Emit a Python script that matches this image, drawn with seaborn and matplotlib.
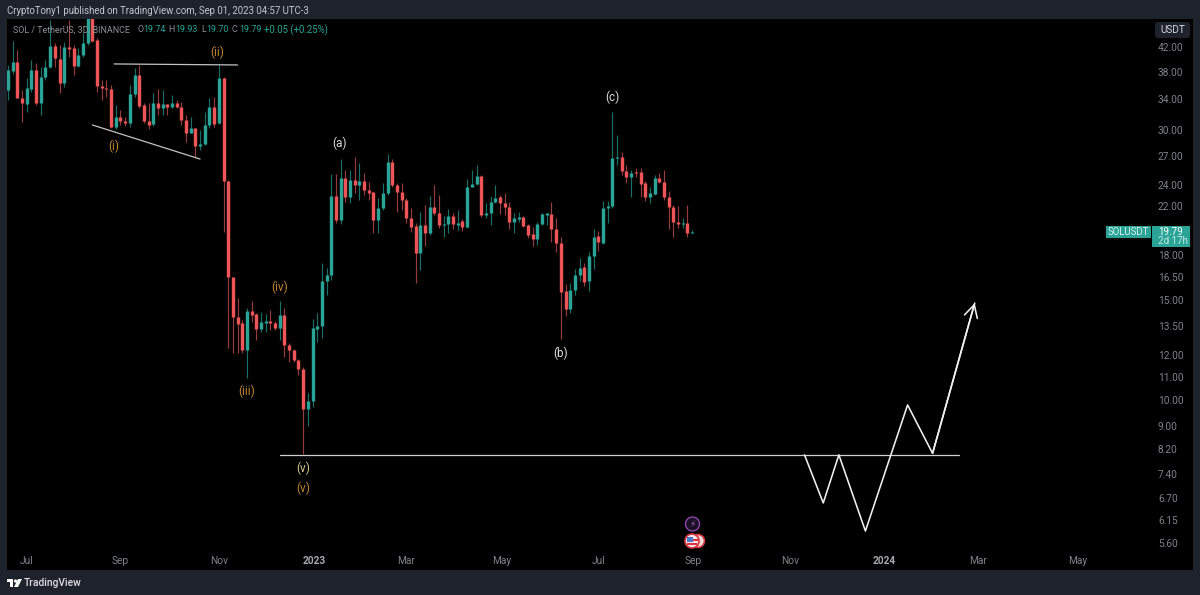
import numpy as np
import pandas as pd
import seaborn as sns
import matplotlib.pyplot as plt
import matplotlib.dates as mdates
from matplotlib.patches import Rectangle, FancyBboxPatch, Circle, Polygon

# 3D candles, first one on 2022-06-19
opens = [35.26,38.10,39.52,34.14,33.31,35.41,38.25,33.45,37.18,38.72,42.17,40.00,36.28,42.00,41.83,38.88,40.66,42.67,47.73,43.19,
         35.84,35.55,35.41,30.34,31.60,31.09,30.84,34.70,37.48,33.18,31.09,30.71,33.45,32.78,33.31,32.91,33.45,32.91,31.21,29.61,
         30.22,28.08,28.31,30.59,32.91,30.84,37.03,24.35,16.48,14.01,13.67,12.25,14.35,14.18,13.34,13.67,13.78,13.67,13.40,14.12,
         12.50,12.25,11.76,11.34,9.63,9.96,13.34,13.51,16.22,16.62,22.91,20.78,24.66,22.82,24.45,23.96,24.35,23.48,23.29,20.78,
         21.82,23.20,26.31,23.96,23.29,22.54,20.95,20.28,18.17,20.36,19.71,21.91,21.38,20.36,20.44,21.12,20.36,20.69,20.19,23.77,
         24.06,24.86,21.20,21.38,22.36,22.82,22.27,21.91,20.61,20.86,21.03,20.36,19.63,19.23,20.44,21.20,21.29,20.03,18.92,15.57,
         14.47,15.64,16.62,17.17,16.22,17.95,19.47,18.92,21.82,22.00,26.74,26.85,25.37,24.76,25.26,25.26,24.16,22.82,23.10,24.66,
         24.26,22.82,21.91,20.61,20.44,20.53,19.74]
highs = [39.04,43.01,41.49,35.26,37.03,39.84,39.36,38.72,39.84,46.87,42.67,42.34,42.84,46.87,42.34,41.83,44.44,50.90,48.82,43.55,
         36.73,36.73,35.99,33.18,32.51,31.60,35.99,38.57,39.04,33.45,33.45,34.84,35.41,35.26,33.31,34.56,33.86,33.58,31.86,31.60,
         30.22,29.97,32.25,34.14,34.27,39.04,37.18,24.45,16.48,15.13,13.84,14.53,14.95,14.24,14.30,14.18,14.41,13.78,14.95,14.53,
         12.60,12.30,11.81,11.43,10.29,13.90,14.24,17.45,17.10,25.06,25.06,26.63,25.47,25.47,26.85,26.20,25.16,24.26,23.29,22.73,
         24.16,27.18,26.63,24.16,24.16,22.73,21.82,20.53,21.46,22.09,22.91,23.96,23.01,21.12,21.73,21.38,21.64,20.86,24.56,25.47,
         25.99,24.96,22.27,22.91,23.96,23.01,23.20,22.36,21.38,21.46,21.12,20.44,20.19,20.61,21.38,21.38,22.36,20.95,19.39,16.02,
         16.09,17.03,17.80,17.45,18.24,20.03,19.87,22.45,22.45,32.25,29.37,27.41,25.99,25.47,25.68,25.68,24.35,23.77,24.96,25.16,
         25.47,23.38,22.09,22.00,20.95,22.09,19.93]
lows = [33.86,37.64,34.14,30.96,32.25,34.98,33.18,31.86,36.73,38.57,38.72,34.84,35.70,40.33,37.48,38.72,40.33,42.34,42.84,34.98,
        33.86,34.27,30.22,30.09,30.59,30.46,30.34,34.27,32.78,30.84,30.09,30.46,31.86,31.86,31.86,32.78,32.78,30.59,28.54,29.61,
        26.85,27.63,28.19,30.22,30.34,30.71,19.79,12.35,12.10,12.10,12.10,10.94,13.73,12.76,13.18,13.18,13.29,13.29,12.76,11.90,
        11.66,11.66,11.07,8.02,9.00,9.71,12.66,12.86,15.32,16.28,20.53,20.44,22.36,22.27,23.20,22.54,23.01,22.54,19.71,19.71,
        21.64,23.01,23.77,21.46,21.64,20.53,19.79,16.09,16.96,18.69,19.55,21.20,20.11,19.39,19.71,20.03,19.95,19.87,20.11,23.77,
        23.96,21.03,20.95,20.36,22.27,21.29,21.20,20.03,19.71,20.61,20.19,19.31,18.69,18.77,20.36,20.36,19.00,18.24,12.81,14.07,
        14.24,15.32,16.22,15.89,15.57,17.03,18.32,18.85,20.53,21.82,25.99,24.96,24.16,22.82,24.76,22.82,22.45,22.27,23.01,24.16,
        22.54,20.03,19.39,20.11,20.11,19.39,19.70]
closes = [38.25,39.52,34.14,33.45,35.55,38.25,33.45,37.18,38.72,42.17,40.16,36.28,42.00,41.66,38.88,40.66,42.67,48.30,43.01,35.84,
          35.55,35.41,30.34,31.60,31.09,30.84,34.70,37.48,33.05,31.09,30.59,33.45,32.78,33.31,32.91,33.45,32.91,31.21,29.61,30.22,
          28.08,28.31,30.59,32.91,30.71,37.03,24.35,16.48,14.01,13.62,12.25,14.35,14.12,13.34,13.73,13.78,13.67,13.40,14.12,12.50,
          12.25,11.76,11.34,9.63,9.96,13.40,13.51,16.22,16.62,22.91,20.78,24.66,22.82,24.45,23.96,24.35,23.48,23.20,20.78,21.82,
          23.20,26.31,23.96,23.29,22.54,20.95,20.19,18.17,20.36,19.71,21.91,21.38,20.36,20.44,21.12,20.44,20.53,20.19,23.77,24.06,
          24.86,21.20,21.38,22.36,22.73,22.27,21.91,20.61,20.95,21.03,20.28,19.55,19.23,20.44,21.29,21.38,20.03,18.92,15.51,14.47,
          15.64,16.62,17.10,16.15,17.95,19.39,19.00,21.82,22.00,26.74,26.85,25.37,24.76,25.16,25.16,24.06,22.82,23.20,24.66,24.26,
          22.82,21.91,20.61,20.44,20.53,19.71,19.79]

price_ticks = [42, 38, 34, 30, 27, 24, 22, 18, 16.5, 15, 13.5, 12, 11, 10, 9, 8.2, 7.4, 6.7, 6.15, 5.6]
tick_dates = ["2022-07-01", "2022-08-30", "2022-11-01", "2023-01-01", "2023-03-01", "2023-05-01",
              "2023-07-02", "2023-09-01", "2023-11-02", "2024-01-01", "2024-03-01", "2024-05-04"]
tick_labels = ["Jul", "Sep", "Nov", "2023", "Mar", "May", "Jul", "Sep", "Nov", "2024", "Mar", "May"]

wave_labels = ["(i)", "(ii)", "(iii)", "(iv)", "(v)", "(v)", "(a)", "(b)", "(c)"]
wave_dates = ["2022-08-26", "2022-10-31", "2022-11-19", "2022-12-10", "2022-12-25", "2022-12-25",
              "2023-01-17", "2023-06-08", "2023-07-11"]
wave_prices = [28.08, 41.15, 10.37, 15.8, 7.58, 6.99, 28.42, 12.07, 34.27]
wave_colors = ["#c08430"] * 4 + ["#d2c98c", "#c08430"] + ["#dcdcdc"] * 3

top_line_dates = ["2022-08-26", "2022-11-13"]
top_line_prices = [39.2, 39.04]
low_line_dates = ["2022-08-12", "2022-10-20"]
low_line_prices = [30.59, 26.63]
base_line_dates = ["2022-12-10", "2024-02-18"]
base_line_prices = [8.0, 8.0]
path_dates = ["2023-11-11", "2023-11-23", "2023-12-03", "2023-12-20", "2024-01-16", "2024-02-01", "2024-02-28"]
path_prices = [8.0, 6.58, 8.0, 5.87, 9.8, 8.05, 14.83]

GREEN = "#29a497"
RED = "#ee5558"
PANEL = "#1e222d"
W, H = 1200, 595

dates = pd.date_range("2022-06-19", periods=len(opens), freq="3D")
candles = pd.DataFrame({"date": dates, "open": opens, "high": highs, "low": lows, "close": closes})
candles["dir"] = np.where(candles["close"] >= candles["open"], "up", "down")
candles["candle"] = range(len(candles))

wicks = candles.melt(id_vars=["date", "candle", "dir"], value_vars=["low", "high"], value_name="price")
bodies = candles.melt(id_vars=["date", "candle", "dir"], value_vars=["open", "close"], value_name="price")

sns.set_theme(style="dark")
plt.rcParams["font.family"] = ["Roboto", "DejaVu Sans"]

fig = plt.figure(figsize=(W / 100, H / 100), dpi=100, facecolor=PANEL)

bg = fig.add_axes([0, 0, 1, 1], zorder=0)
bg.set_xlim(0, W)
bg.set_ylim(H, 0)
bg.axis("off")
bg.add_patch(Rectangle((7, 19), 1186, 551, color="black", lw=0))

ax = fig.add_axes([7 / W, 1 - 552 / H, 1145 / W, 533 / H], zorder=1)
ax.patch.set_alpha(0)

sns.lineplot(data=wicks, x="date", y="price", units="candle", estimator=None, hue="dir",
             palette={"up": "#1a6f67", "down": "#983c3c"}, lw=0.85, sort=False, legend=False,
             solid_capstyle="butt", ax=ax)
sns.lineplot(data=bodies, x="date", y="price", units="candle", estimator=None, hue="dir",
             palette={"up": GREEN, "down": RED}, lw=2.45, sort=False, legend=False,
             solid_capstyle="butt", ax=ax)

sns.lineplot(x=pd.to_datetime(top_line_dates), y=top_line_prices, color="#c4c4c4", lw=0.9, ax=ax)
sns.lineplot(x=pd.to_datetime(low_line_dates), y=low_line_prices, color="#c4c4c4", lw=0.9, ax=ax)
sns.lineplot(x=pd.to_datetime(base_line_dates), y=base_line_prices, color="#d0d0d0", lw=0.9, ax=ax)
path_x = pd.to_datetime(path_dates)
sns.lineplot(x=path_x, y=path_prices, color="#f0f0f0", lw=1.15, sort=False, estimator=None, ax=ax)
ax.annotate("", xy=(path_x[-1], path_prices[-1]), xytext=(path_x[-2], path_prices[-2]),
            arrowprops=dict(arrowstyle="->,head_length=0.75,head_width=0.4", color="#f0f0f0", lw=1.15,
                            shrinkA=0, shrinkB=0))

for label, d, p, c in zip(wave_labels, wave_dates, wave_prices, wave_colors):
    ax.text(pd.Timestamp(d), p, label, color=c, fontsize=8.5, ha="center", va="center")

ax.set_yscale("log")
# ylim and xlim picked so that price and time land on the reference pixels
ax.set_ylim(5.39, 47.06)
d0 = mdates.date2num(dates[0])
ax.set_xlim(d0 - 0.64, d0 + 732.5)
ax.set_yticks(price_ticks, [f"{t:.2f}" for t in price_ticks])
ax.minorticks_off()
ax.yaxis.tick_right()
ax.set_xticks(pd.to_datetime(tick_dates), tick_labels)
ax.tick_params(axis="y", length=0, pad=4.3, labelsize=7.3, labelcolor="#7f828c")
ax.tick_params(axis="x", length=0, pad=3.2, labelsize=7.3, labelcolor="#7f828c")
for t in ax.get_xticklabels():
    if t.get_text().startswith("20"):
        t.set_fontweight("bold")
        t.set_color("#a8aab2")
ax.set_xlabel("")
ax.set_ylabel("")
ax.grid(False)
for s in ax.spines.values():
    s.set_visible(False)

# overlay: header, legend text, badges and the little event icons
ov = fig.add_axes([0, 0, 1, 1], zorder=2)
ov.set_xlim(0, W)
ov.set_ylim(H, 0)
ov.axis("off")
ov.patch.set_alpha(0)

ov.text(7, 11, "CryptoTony1 published on TradingView.com, Sep 01, 2023 04:57 UTC-3",
        color="#c4c7cf", fontsize=6.9, va="center")
ov.text(13, 30, "SOL / TetherUS, 3D, BINANCE", color="#8d9099", fontsize=6.4, va="center")
legend_parts = [(137, "O", "#8d9099"), (143, "19.74", GREEN), (168, "H", "#8d9099"), (175, "19.93", GREEN),
                (201, "L", "#8d9099"), (206, "19.70", GREEN), (232, "C", "#8d9099"), (239, "19.79", GREEN),
                (264, "+0.05 (+0.25%)", GREEN)]
for x, s, c in legend_parts:
    ov.text(x, 30, s, color=c, fontsize=6.4 if x < 264 else 6.9, va="center")

ov.add_patch(FancyBboxPatch((1155, 22), 35, 16, boxstyle="round,pad=0,rounding_size=3", fc=PANEL, ec="none"))
ov.text(1172.5, 30, "USDT", color="#d1d4dc", fontsize=7.2, ha="center", va="center")

ov.add_patch(Rectangle((1106, 226), 45, 12, color=GREEN, lw=0))
ov.text(1128.5, 232, "SOLUSDT", color="#d9f0ed", fontsize=6.9, ha="center", va="center")
ov.add_patch(Rectangle((1152, 226), 38, 21, color=GREEN, lw=0))
ov.text(1158, 232, "19.79", color="white", fontsize=7.0, va="center")
ov.text(1158, 241.5, "2d 17h", color="#c5e8e4", fontsize=7.0, va="center")

ov.add_patch(Circle((692.5, 524), 7, fc="#1a1024", ec="#8e44ad", lw=1.0))
ov.text(692.5, 524, "\u26a1", color="#a45fc8", fontsize=6.5, ha="center", va="center", family="DejaVu Sans")
ov.add_patch(Circle((698, 541), 6.5, fc="#f0d8d8", ec="#d8333f", lw=1.2))
ov.add_patch(Circle((692, 541), 7, fc="#f4e4e4", ec="#d8333f", lw=1.2))
ov.add_patch(Rectangle((687, 536.5), 5.5, 5, color="#4a78c8", lw=0))
ov.add_patch(Rectangle((692.5, 539), 5, 1.5, color="#d8333f", lw=0))
ov.add_patch(Rectangle((687, 543), 10, 1.5, color="#d8333f", lw=0))

# TradingView logo
ov.add_patch(Rectangle((7, 579), 6, 3, color="white", lw=0))
ov.add_patch(Rectangle((10, 579), 3, 8, color="white", lw=0))
ov.add_patch(Circle((15.5, 581), 1.6, color="white", lw=0))
ov.add_patch(Polygon([(14, 587), (18, 579), (22, 579), (18, 587)], color="white", lw=0))
ov.text(24, 583, "TradingView", color="#e0e0e2", fontsize=7.4, va="center", fontweight="medium")

fig.savefig("out.png", dpi=100, facecolor=PANEL)
